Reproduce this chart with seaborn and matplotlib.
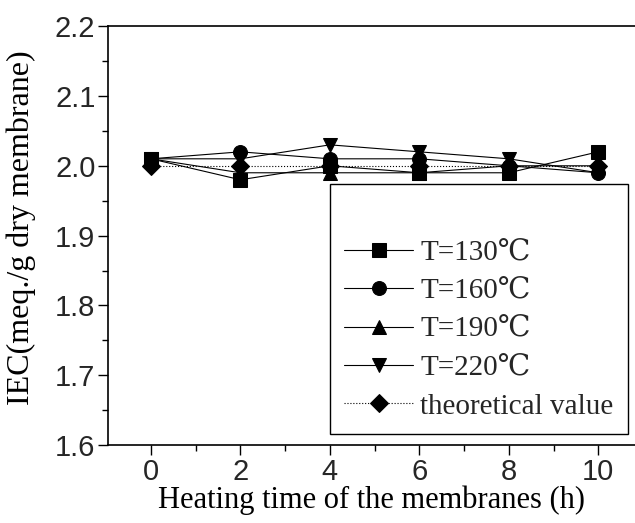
import matplotlib
matplotlib.use("Agg")
import matplotlib.pyplot as plt
import seaborn as sns
import pandas as pd
from matplotlib.ticker import MultipleLocator

sns.set_theme(style="ticks")
plt.rcParams['font.family'] = ['Liberation Serif', 'DejaVu Serif']

hours = [0, 2, 4, 6, 8, 10]
iec_130 = [2.01, 1.98, 2.00, 1.99, 1.99, 2.02]
iec_160 = [2.01, 2.02, 2.01, 2.01, 2.00, 1.99]
iec_190 = [2.01, 1.99, 1.99, 1.99, 2.00, 2.00]
iec_220 = [2.01, 2.01, 2.03, 2.02, 2.01, 1.99]
iec_theory = [2.00, 2.00, 2.00, 2.00, 2.00, 2.00]
labels = ["T=130℃", "T=160℃", "T=190℃", "T=220℃", "theoretical value"]
series = [iec_130, iec_160, iec_190, iec_220, iec_theory]
markers = ["s", "o", "^", "v", "D"]
styles = ["-", "-", "-", "-", ":"]
yticks = [1.6, 1.7, 1.8, 1.9, 2.0, 2.1, 2.2]
xticks = [0, 2, 4, 6, 8, 10]

fig = plt.figure(figsize=(6.35, 5.23), dpi=100)
ax = fig.add_axes([0.170, 0.149, 0.830, 0.801])

for vals, lab, m, ls in zip(series, labels, markers, styles):
    df = pd.DataFrame({"h": hours, "iec": vals})
    sns.lineplot(data=df, x="h", y="iec", ax=ax, color="black", marker=m,
                 markersize=10 if m != "D" else 9, linewidth=0.8, linestyle=ls,
                 markeredgecolor="black", label=lab)

ax.set_xlim(-0.96, 10.82)
ax.set_ylim(1.6, 2.2)
ax.set_xticks(xticks)
ax.set_yticks(yticks)
ax.xaxis.set_minor_locator(MultipleLocator(1))
ax.yaxis.set_minor_locator(MultipleLocator(0.05))
ax.set_yticklabels([f"{v:.1f}" for v in yticks], family="Liberation Sans", fontsize=21)
ax.set_xticklabels([str(v) for v in xticks], family="Liberation Sans", fontsize=21)
ax.tick_params(which="major", direction="out", length=7, width=1, color="black", pad=2)
ax.tick_params(which="minor", direction="out", length=4, width=1, color="black")
for s in ["left", "bottom", "top"]:
    ax.spines[s].set_color("black")
    ax.spines[s].set_linewidth(1.2)
ax.spines["right"].set_visible(False)

ax.set_xlabel("Heating time of the membranes (h)", fontsize=22, labelpad=0, color="black")
ax.set_ylabel("IEC(meq./g dry membrane)", fontsize=23, color="black")
ax.yaxis.set_label_coords(-0.137, 0.52)

leg = ax.legend(loc="lower right", bbox_to_anchor=(0.987, 0.026), borderaxespad=0,
                fontsize=21, frameon=True, fancybox=False, edgecolor="black", framealpha=1,
                handlelength=2.35, handletextpad=0.25, labelspacing=0.41, borderpad=0.5,
                title=" ", title_fontsize=22)
leg.get_frame().set_linewidth(1.0)

fig.savefig("out.png", dpi=100)
